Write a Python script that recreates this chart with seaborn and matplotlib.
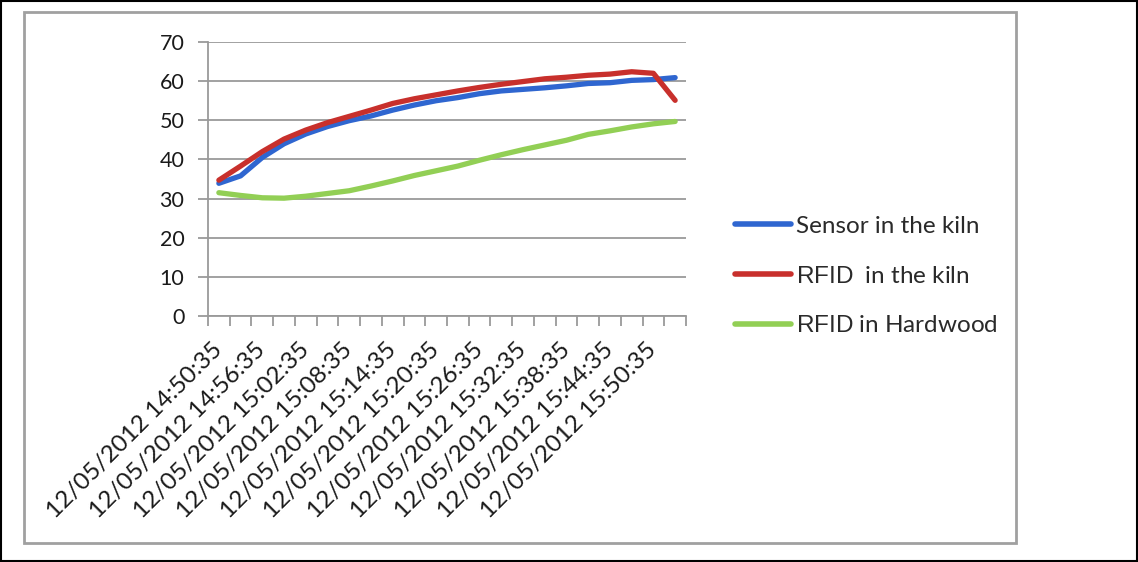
import matplotlib
matplotlib.use("Agg")
import matplotlib.pyplot as plt
from matplotlib.patches import Rectangle
import pandas as pd
import seaborn as sns

# Readings taken every three minutes
timestamps = [
    "12/05/2012 14:50:35", "12/05/2012 14:53:35", "12/05/2012 14:56:35",
    "12/05/2012 14:59:35", "12/05/2012 15:02:35", "12/05/2012 15:05:35",
    "12/05/2012 15:08:35", "12/05/2012 15:11:35", "12/05/2012 15:14:35",
    "12/05/2012 15:17:35", "12/05/2012 15:20:35", "12/05/2012 15:23:35",
    "12/05/2012 15:26:35", "12/05/2012 15:29:35", "12/05/2012 15:32:35",
    "12/05/2012 15:35:35", "12/05/2012 15:38:35", "12/05/2012 15:41:35",
    "12/05/2012 15:44:35", "12/05/2012 15:47:35", "12/05/2012 15:50:35",
    "12/05/2012 15:53:35",
]

sensor_kiln = [33.9, 35.8, 40.5, 44.0, 46.5, 48.4, 49.9, 51.1, 52.6, 53.9, 55.0,
               55.8, 56.8, 57.5, 57.9, 58.3, 58.8, 59.4, 59.6, 60.2, 60.4, 60.9]
rfid_kiln = [34.7, 38.3, 42.0, 45.2, 47.5, 49.4, 51.0, 52.6, 54.3, 55.5, 56.5,
             57.5, 58.4, 59.2, 59.9, 60.6, 61.0, 61.5, 61.8, 62.4, 62.0, 55.1]
rfid_hardwood = [31.5, 30.8, 30.2, 30.1, 30.6, 31.3, 32.0, 33.2, 34.5, 35.9, 37.1,
                 38.3, 39.8, 41.2, 42.5, 43.7, 44.9, 46.4, 47.3, 48.3, 49.1, 49.7]

series_names = ["Sensor in the kiln", "RFID in the kiln", "RFID in Hardwood"]
legend_labels = ["Sensor in the kiln", r"$\mathsf{RFID}$  in the kiln",
                 r"$\mathsf{RFID}$ in Hardwood"]
colors = ["#2f66d0", "#c8302c", "#92cf55"]

yticks = [0, 10, 20, 30, 40, 50, 60, 70]

rows = []
for name, vals in zip(series_names, [sensor_kiln, rfid_kiln, rfid_hardwood]):
    for i, v in enumerate(vals):
        rows.append({"step": i, "temp": v, "series": name})
df = pd.DataFrame(rows)

sns.set_theme(style="white")
plt.rcParams["font.family"] = ["Lato", "DejaVu Sans"]
plt.rcParams["mathtext.fontset"] = "custom"
plt.rcParams["mathtext.sf"] = "Liberation Sans"

W, H = 1138, 562
fig = plt.figure(figsize=(W / 100, H / 100), dpi=100)
fig.patch.set_facecolor("white")
ax = fig.add_axes([208 / W, 1 - 316 / H, (686 - 208) / W, (316 - 42) / H])

sns.lineplot(data=df, x="step", y="temp", hue="series", hue_order=series_names,
             palette=colors, linewidth=3.8, ax=ax, legend=False, sort=False)
for ln in ax.get_lines():
    ln.set_solid_capstyle("round")
    ln.set_solid_joinstyle("round")

grid_color = "#9a9a9a"
ax.set_xlim(-0.5, len(timestamps) - 0.5)
ax.set_ylim(0, 70)
ax.set_yticks(yticks)
ax.set_yticklabels([str(t) for t in yticks])
ax.yaxis.grid(True, color=grid_color, linewidth=1.3)
ax.xaxis.grid(False)
ax.set_axisbelow(True)

label_pos = list(range(0, len(timestamps), 2))
ax.set_xticks(label_pos)
ax.set_xticklabels([timestamps[i] for i in label_pos], rotation=45, ha="right",
                   va="center", rotation_mode="anchor")
ax.set_xticks([i - 0.5 for i in range(len(timestamps) + 1)], minor=True)
ax.tick_params(axis="x", which="major", length=0, pad=22, labelsize=17.5,
               colors="#1a1a1a")
ax.tick_params(axis="x", which="minor", length=7, width=1.3, color=grid_color,
               direction="out", bottom=True)
ax.tick_params(axis="y", length=7, width=1.3, color=grid_color, direction="out",
               left=True, pad=10, labelsize=15.5, labelcolor="#1a1a1a")
ax.set_xlabel("")
ax.set_ylabel("")

for side in ["top", "right"]:
    ax.spines[side].set_visible(False)
for side in ["left", "bottom"]:
    ax.spines[side].set_color(grid_color)
    ax.spines[side].set_linewidth(1.3)

handles = ax.get_lines()[:3]
leg = fig.legend(handles, legend_labels, loc="center left",
                 bbox_to_anchor=(735 / W, 1 - 276 / H), frameon=False,
                 fontsize=17.5, handlelength=2.3, handletextpad=0.2,
                 labelspacing=1.18, borderpad=0, borderaxespad=0)
for t in leg.get_texts():
    t.set_color("#2a2a2a")
for h in leg.get_lines():
    h.set_linewidth(4)

# Chart frame and outer border
fig.add_artist(Rectangle((24 / W, 1 - 543 / H), (1016 - 24) / W, (543 - 12) / H,
                         transform=fig.transFigure, fill=False,
                         edgecolor="#a0a0a0", linewidth=2))
fig.add_artist(Rectangle((1 / W, 1 / H), (W - 2) / W, (H - 2) / H,
                         transform=fig.transFigure, fill=False,
                         edgecolor="black", linewidth=1.5))

fig.savefig("out.png", dpi=100, facecolor="white")
